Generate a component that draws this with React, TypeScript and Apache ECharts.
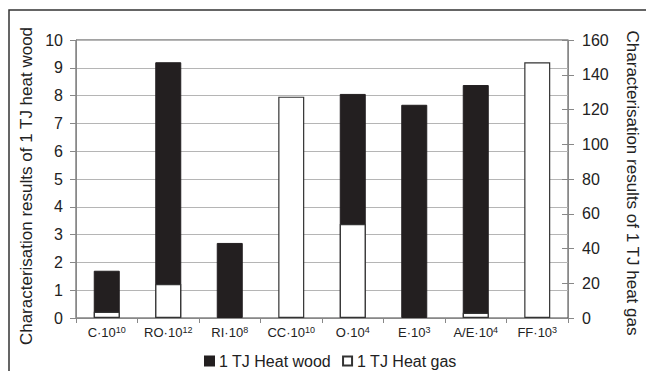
import React, { useEffect, useRef } from "react";
import * as echarts from "echarts";

const categories = ["C", "RO", "RI", "CC", "O", "E", "A/E", "FF"];
const exponents = ["10", "12", "8", "10", "4", "3", "4", "3"];
const woodValues: (number | null)[] = [1.7, 9.2, 2.7, null, 8.06, 7.67, 8.38, null];
const gasValues: (number | null)[] = [3.6, 19.6, null, 127.4, 54.1, null, 3.0, 147.2];
const leftTicks = { min: 0, max: 10, interval: 1 };
const rightTicks = { min: 0, max: 160, interval: 20 };
const leftName = "Characterisation results of 1 TJ heat wood";
const rightName = "Characterisation results of 1 TJ heat gas";

const FONT = "'Liberation Sans', Arial, sans-serif";

export default function App() {
  const ref = useRef<HTMLDivElement>(null);
  useEffect(() => {
    document.body.style.margin = "0";
    if (!ref.current) return;
    const chart = echarts.init(ref.current, null, { renderer: "svg" });
    const labels = categories.map((c, i) => `{b|${c}·10}{s|${exponents[i]}}`);
    chart.setOption({
      animation: false,
      textStyle: { fontFamily: FONT },
      grid: {
        left: 76,
        right: 78,
        top: 40,
        bottom: 53,
        show: true,
        borderColor: "#444",
        borderWidth: 1,
        backgroundColor: "transparent",
      },
      graphic: [
        {
          type: "rect",
          shape: { x: 9, y: 10, width: 700, height: 400 },
          style: { fill: "none", stroke: "#333", lineWidth: 1.5 },
          silent: true,
        },
        {
          type: "text",
          x: 26,
          y: 186,
          rotation: Math.PI / 2,
          style: {
            text: leftName,
            fontSize: 17,
            fontFamily: FONT,
            fill: "#222",
            align: "center",
            verticalAlign: "middle",
          },
          silent: true,
        },
        {
          type: "text",
          x: 632,
          y: 183,
          rotation: -Math.PI / 2,
          style: {
            text: rightName,
            fontSize: 17,
            fontFamily: FONT,
            fill: "#222",
            align: "center",
            verticalAlign: "middle",
          },
          silent: true,
        },
      ],
      legend: {
        top: 348,
        left: 199,
        itemWidth: 9,
        itemHeight: 9,
        itemGap: 11,
        textStyle: { fontSize: 16, color: "#222", fontFamily: FONT },
        data: [
          { name: "1 TJ Heat wood", icon: "rect" },
          { name: "1 TJ Heat gas", icon: "rect" },
        ],
      },
      xAxis: {
        type: "category",
        data: labels,
        axisLine: { lineStyle: { color: "#888", width: 1 } },
        axisTick: { show: true, length: 5, lineStyle: { color: "#888" } },
        axisLabel: {
          interval: 0,
          margin: 7,
          color: "#222",
          rich: {
            b: { fontSize: 13, color: "#222", fontFamily: FONT, lineHeight: 15 },
            s: { fontSize: 9, color: "#222", fontFamily: FONT, verticalAlign: "top", lineHeight: 15 },
          },
        },
      },
      yAxis: [
        {
          type: "value",
          position: "left",
          ...leftTicks,
          axisLine: { show: true, lineStyle: { color: "#888" } },
          axisTick: { show: true, length: 6, lineStyle: { color: "#888" } },
          axisLabel: { fontSize: 16, color: "#222", margin: 13 },
          splitLine: { show: true, lineStyle: { color: "#b5b5b5", width: 1 } },
        },
        {
          type: "value",
          position: "right",
          ...rightTicks,
          axisLine: { show: true, lineStyle: { color: "#888" } },
          axisTick: { show: true, length: 6, lineStyle: { color: "#888" } },
          axisLabel: { fontSize: 16, color: "#222", margin: 14 },
          splitLine: { show: false },
        },
        {
          type: "value",
          position: "right",
          ...rightTicks,
          axisLine: { show: false },
          axisTick: { show: true, inside: true, length: 6, lineStyle: { color: "#888" } },
          axisLabel: { show: false },
          splitLine: { show: false },
        },
      ],
      series: [
        {
          name: "1 TJ Heat wood",
          type: "bar",
          yAxisIndex: 0,
          barWidth: 26,
          barGap: "-100%",
          data: woodValues,
          itemStyle: { color: "#231f20", borderColor: "#231f20", borderWidth: 1 },
        },
        {
          name: "1 TJ Heat gas",
          type: "bar",
          yAxisIndex: 1,
          barWidth: 26,
          barGap: "-100%",
          data: gasValues,
          itemStyle: { color: "#ffffff", borderColor: "#333", borderWidth: 1.2 },
        },
      ],
    });
    return () => chart.dispose();
  }, []);
  return <div ref={ref} style={{ width: 646, height: 371 }} />;
}
